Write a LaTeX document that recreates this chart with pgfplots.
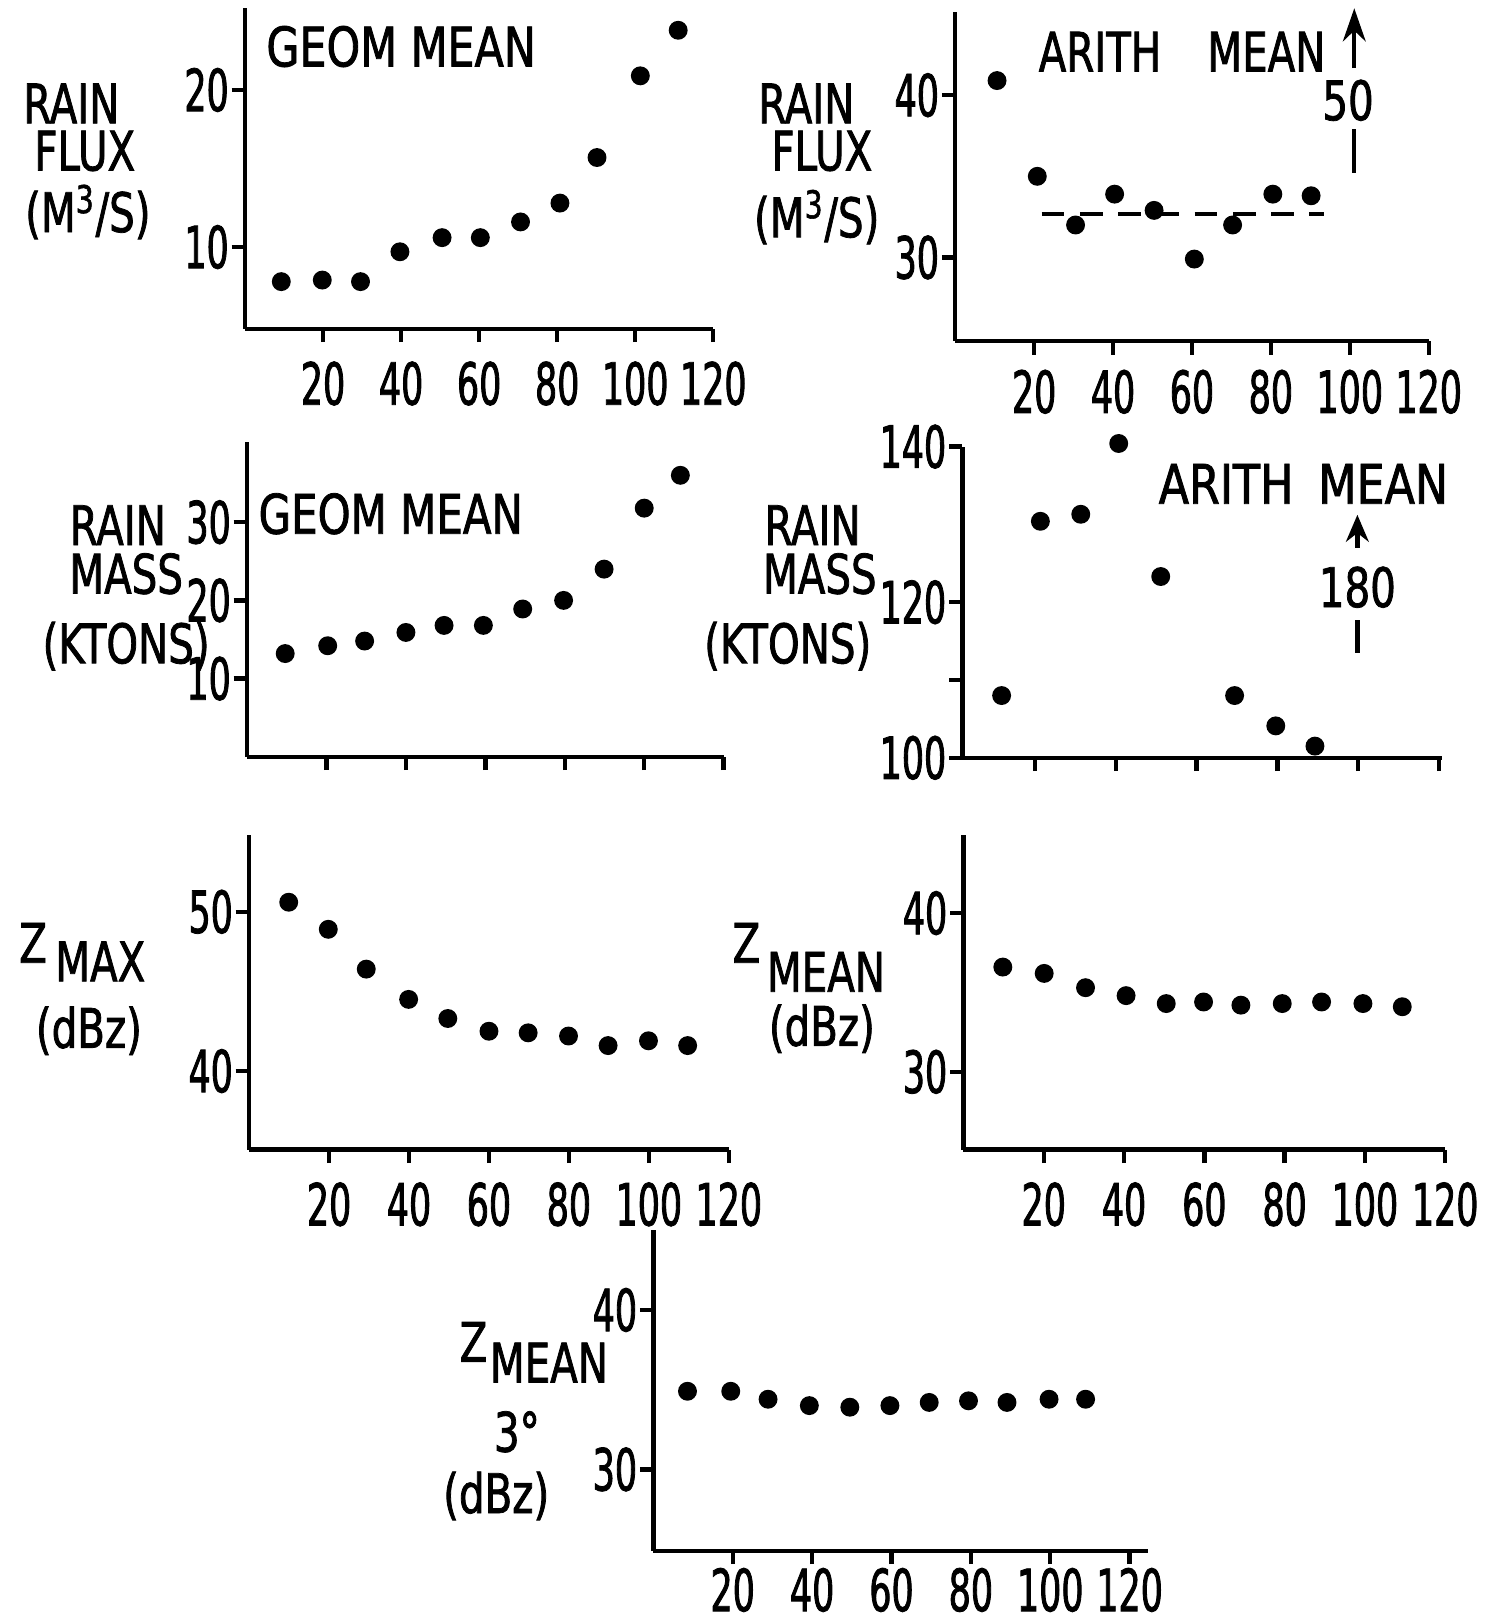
\documentclass[border=0pt]{standalone}
\usepackage{fontspec}
\setmainfont[FakeStretch=0.74, FakeBold=1.4]{DejaVu Sans}
\newfontfamily\tickfont[FakeStretch=0.6, FakeBold=1.4]{DejaVu Sans}
\usepackage{pgfplots}
\pgfplotsset{compat=1.18}
\usetikzlibrary{arrows.meta}
\newcommand{\fs}{\fontsize{15}{17}\selectfont}
\newcommand{\ts}{\tickfont\fontsize{16}{18}\selectfont}
\pgfplotsset{
  panel/.style={
    scale only axis,
    anchor=south west,
    axis x line*=bottom, axis y line*=left,
    axis line style={line width=1.2pt,-},
    every tick/.style={line width=1.2pt, black},
    major tick length=1.3mm,
    tick align=outside,
    clip=false,
    xmin=0, xmax=120,
    xtick={20,40,...,120},
    ticklabel style={font=\ts},
    /pgf/number format/assume math mode=true,
    xticklabel style={yshift=-1.8mm},
    yticklabel style={xshift=-0.2mm},
  },
  dots/.style={only marks, mark=*, mark size=2.4pt, black, mark options={black}},
}
\begin{document}
\begin{tikzpicture}[x=0.1mm,y=-0.1mm, every node/.style={font=\fs, inner sep=0pt}]
\path[use as bounding box] (0,0) rectangle (1453,1568);

% ---------- Panel 1 ----------
\begin{axis}[panel, at={(23.7mm,-31.8mm)}, width=45.3mm, height=31.0mm,
  ymin=4.8, ymax=25.2, ytick={10,20}]
\addplot[dots] coordinates {(9.3,7.8) (19.8,7.9) (29.6,7.8) (39.7,9.7) (50.5,10.6) (60.3,10.6) (70.6,11.6) (80.7,12.8) (90.2,15.7) (101.3,20.9) (111,23.8)};
\end{axis}

% ---------- Panel 2 ----------
\begin{axis}[panel, at={(92.4mm,-33.0mm)}, width=45.8mm, height=31.8mm,
  ymin=24.84, ymax=45.1, ytick={30,40}, xticklabel style={yshift=0.4mm}]
\addplot[dots] coordinates {(10.6,40.9) (20.8,35.0) (30.5,32.0) (40.4,33.9) (50.4,32.9) (60.6,29.9) (70.3,32.0) (80.5,33.9) (90.2,33.8)};
\addplot[black, line width=1.1pt, dash pattern=on 2.2mm off 1.5mm, no marks] coordinates {(21.9,32.7) (93.4,32.7)};
\end{axis}

% ---------- Panel 3 ----------
\begin{axis}[panel, at={(23.9mm,-73.2mm)}, width=46.1mm, height=30.4mm,
  ymin=0, ymax=40.2, ytick={10,20,30}, xticklabels={}]
\addplot[dots] coordinates {(9.6,13.2) (20.3,14.2) (29.6,14.8) (40,15.9) (49.6,16.8) (59.5,16.8) (69.4,18.9) (79.7,20.0) (89.9,24.0) (100,31.8) (109.1,36.0)};
\end{axis}

% ---------- Panel 4 ----------
\begin{axis}[panel, at={(93.1mm,-73.3mm)}, width=46.4mm, height=30.1mm,
  xmin=2, xmax=120.8,
  ymin=100, ymax=140, ytick={100,110,120,140}, yticklabels={100,{},120,140}, xticklabels={}]
\addplot[dots] coordinates {(11.7,108) (21.3,130.4) (31.3,131.3) (40.7,140.4) (51.1,123.3) (69.4,108) (79.6,104.1) (89.3,101.5)};
\end{axis}

% ---------- Panel 5 ----------
\begin{axis}[panel, at={(24.1mm,-111.2mm)}, width=46.4mm, height=30.4mm,
  ymin=35.07, ymax=54.8, ytick={40,50}]
\addplot[dots] coordinates {(9.9,50.6) (19.8,48.9) (29.3,46.4) (39.9,44.5) (49.7,43.3) (60,42.5) (69.8,42.4) (79.9,42.2) (89.8,41.6) (99.9,41.9) (109.7,41.6)};
\end{axis}

% ---------- Panel 6 ----------
\begin{axis}[panel, at={(93.2mm,-111.2mm)}, width=46.6mm, height=30.4mm,
  ymin=25.1, ymax=44.9, ytick={30,40}]
\addplot[dots] coordinates {(9.8,36.6) (20.1,36.2) (30.4,35.3) (40.5,34.8) (50.5,34.3) (59.8,34.4) (69.1,34.2) (79.4,34.3) (89.2,34.4) (99.5,34.3) (109.3,34.1)};
\end{axis}

% ---------- Panel 7 ----------
\begin{axis}[panel, at={(63.2mm,-150.0mm)}, width=47.8mm, height=31.0mm,
  xmin=0, xmax=124.5, ymin=24.9, ymax=45, ytick={30,40}, xticklabel style={yshift=1.5mm}]
\addplot[dots] coordinates {(8.6,34.9) (19.5,34.9) (28.9,34.4) (39.3,34.0) (49.5,33.9) (59.6,34.0) (69.5,34.2) (79.4,34.3) (89.1,34.2) (99.7,34.4) (108.9,34.4)};
\end{axis}

% ---------- texts ----------
% panel 1
\node at (388,45) {\scalebox{1.06}[1]{GEOM MEAN}};
\node at (69,100) {RAIN};
\node at (82,146) {FLUX};
\node at (85,205) {(M\textsuperscript{3}/S)};
% panel 2
\node at (1064,50) {ARITH};
\node at (1225,50) {MEAN};
\draw[line width=1.2pt, -{Stealth[length=3.2mm,width=2.2mm]}] (1310,66) -- (1310,8);
\node at (1304,97) {50};
\draw[line width=1.2pt] (1310,125) -- (1310,167);
\node at (780,100) {RAIN};
\node at (795,146) {FLUX};
\node at (790,210) {(M\textsuperscript{3}/S)};
% panel 3
\node at (378,497) {\scalebox{1.04}[1]{GEOM MEAN}};
\node at (114,508) {RAIN};
\node at (122,555) {MASS};
\node at (122,625) {(KTONS)};
% panel 4
\node at (1186,468) {\scalebox{1.1}[1]{ARITH}};
\node at (1338,468) {\scalebox{1.1}[1]{MEAN}};
\draw[line width=1.2pt, -{Stealth[length=2.6mm,width=2.2mm]}] (1313,530) -- (1313,498);
\node at (1313,568) {180};
\draw[line width=1.2pt] (1313,600) -- (1313,632);
\node at (786,508) {RAIN};
\node at (793,555) {MASS};
\node at (762,625) {(KTONS)};
% panel 5
\node at (32,912) {Z};
\node at (97,930) {MAX};
\node at (86,997) {(dBz)};
% panel 6
\node at (722,912) {Z};
\node at (799,940) {MEAN};
\node at (795,995) {(dBz)};
% panel 7
\node at (458,1298) {Z};
\node at (531,1318) {MEAN};
\node at (500,1385) {3°};
\node at (480,1447) {(dBz)};
\end{tikzpicture}
\end{document}
